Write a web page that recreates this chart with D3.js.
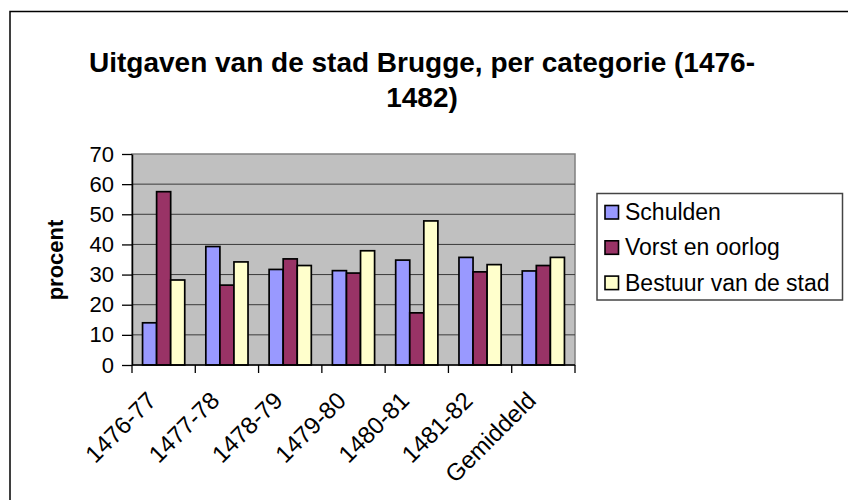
<!DOCTYPE html>
<html>
<head>
<meta charset="utf-8">
<script src="https://cdn.jsdelivr.net/npm/d3@7"></script>
<style>
  body { margin: 0; background: #fff; }
  svg { display: block; font-family: "Liberation Sans", Arial, sans-serif; }
</style>
</head>
<body>
<div id="chart"></div>
<script>
// Data
const categories = ['1476-77', '1477-78', '1478-79', '1479-80', '1480-81', '1481-82', 'Gemiddeld'];
const seriesNames = ['Schulden', 'Vorst en oorlog', 'Bestuur van de stad'];
const schulden = [14.0, 39.3, 31.7, 31.3, 34.8, 35.7, 31.2];
const vorstEnOorlog = [57.5, 26.5, 35.2, 30.5, 17.3, 30.9, 33.0];
const bestuur = [28.2, 34.2, 33.0, 37.9, 47.8, 33.3, 35.7];
const yTicks = [0, 10, 20, 30, 40, 50, 60, 70];

const colors = ['#9999FF', '#993366', '#FFFFCC'];

const width = 848;
const height = 500;
const plot = { left: 132, right: 575, top: 154, bottom: 365 };

const svg = d3.select('#chart')
  .append('svg')
  .attr('width', width)
  .attr('height', height);

// Outer chart frame
svg.append('rect')
  .attr('x', 10)
  .attr('y', 11.5)
  .attr('width', 860)
  .attr('height', 520)
  .attr('fill', '#fff')
  .attr('stroke', '#000')
  .attr('stroke-width', 1.5);

// Title, two lines
const title = svg.append('text')
  .attr('text-anchor', 'middle')
  .style('font-size', '28px')
  .style('font-weight', 'bold');
title.append('tspan').attr('x', 422).attr('y', 72).text('Uitgaven van de stad Brugge, per categorie (1476-');
title.append('tspan').attr('x', 422).attr('y', 106.5).text('1482)');

// Scales
const x0 = d3.scaleBand()
  .domain(categories)
  .range([plot.left, plot.right])
  .paddingInner(0)
  .paddingOuter(0);

// gap width 150% -> bars take 3 / 4.5 of the band
const x1 = d3.scaleBand()
  .domain(seriesNames)
  .range([0, x0.bandwidth()])
  .paddingOuter(0.75)
  .paddingInner(0);

const y = d3.scaleLinear()
  .domain([0, 70])
  .range([plot.bottom, plot.top]);

// Plot background
svg.append('rect')
  .attr('x', plot.left)
  .attr('y', plot.top)
  .attr('width', plot.right - plot.left)
  .attr('height', plot.bottom - plot.top)
  .attr('fill', '#C0C0C0')
  .attr('stroke', '#808080')
  .attr('stroke-width', 1.5);

// Gridlines
svg.append('g')
  .selectAll('line')
  .data(yTicks.filter(d => d > 0 && d < 70))
  .join('line')
  .attr('x1', plot.left)
  .attr('x2', plot.right)
  .attr('y1', d => y(d))
  .attr('y2', d => y(d))
  .attr('stroke', '#3a3a3a')
  .attr('stroke-width', 1);

// Bars
const values = [schulden, vorstEnOorlog, bestuur];
const rows = categories.map((c, i) => ({
  cat: c,
  vals: seriesNames.map((s, j) => ({ name: s, value: values[j][i], color: colors[j] }))
}));

svg.append('g')
  .selectAll('g')
  .data(rows)
  .join('g')
  .attr('transform', d => `translate(${x0(d.cat)},0)`)
  .selectAll('rect')
  .data(d => d.vals)
  .join('rect')
  .attr('x', d => x1(d.name))
  .attr('y', d => y(d.value))
  .attr('width', x1.bandwidth())
  .attr('height', d => y(0) - y(d.value))
  .attr('fill', d => d.color)
  .attr('stroke', '#000')
  .attr('stroke-width', 1.7);

// Y axis
const yAxis = svg.append('g')
  .attr('transform', `translate(${plot.left},0)`)
  .call(d3.axisLeft(y).tickValues(yTicks).tickSize(10).tickPadding(8).tickSizeOuter(0));
yAxis.select('.domain').attr('stroke', '#000').attr('stroke-width', 1.5);
yAxis.selectAll('.tick line').attr('stroke', '#000').attr('stroke-width', 1.3);
yAxis.selectAll('.tick text')
  .attr('fill', '#000')
  .style('font-size', '22px')
  .style('font-family', '"Liberation Sans", Arial, sans-serif');

// X axis: ticks at band boundaries
const xAxis = svg.append('g')
  .attr('transform', `translate(0,${plot.bottom})`);
xAxis.append('line')
  .attr('x1', plot.left)
  .attr('x2', plot.right)
  .attr('stroke', '#000')
  .attr('stroke-width', 1.5);
xAxis.selectAll('line.tick')
  .data(categories.concat(['end']))
  .join('line')
  .attr('class', 'tick')
  .attr('x1', (d, i) => plot.left + i * x0.step())
  .attr('x2', (d, i) => plot.left + i * x0.step())
  .attr('y1', 0)
  .attr('y2', 8)
  .attr('stroke', '#000')
  .attr('stroke-width', 1.3);
xAxis.selectAll('text')
  .data(categories)
  .join('text')
  .attr('text-anchor', 'end')
  .attr('transform', d => `translate(${x0(d) + x0.bandwidth() / 2 - 6},37) rotate(-45)`)
  .style('font-size', '24px')
  .text(d => d);

// Y axis title
svg.append('text')
  .attr('transform', 'translate(63,260) rotate(-90)')
  .attr('text-anchor', 'middle')
  .style('font-size', '22px')
  .style('font-weight', 'bold')
  .text('procent');

// Legend
const legend = svg.append('g');
legend.append('rect')
  .attr('x', 597)
  .attr('y', 193.5)
  .attr('width', 245.5)
  .attr('height', 106.5)
  .attr('fill', '#fff')
  .attr('stroke', '#444')
  .attr('stroke-width', 1.5);

const items = legend.selectAll('g.item')
  .data(seriesNames)
  .join('g')
  .attr('class', 'item')
  .attr('transform', (d, i) => `translate(0,${212 + i * 35.3})`);
items.append('rect')
  .attr('x', 605)
  .attr('y', -6.5)
  .attr('width', 13.5)
  .attr('height', 13.5)
  .attr('fill', (d, i) => colors[i])
  .attr('stroke', '#000')
  .attr('stroke-width', 1.6);
items.append('text')
  .attr('x', 625)
  .attr('y', 8)
  .style('font-size', '23px')
  .text(d => d);
</script>
</body>
</html>
